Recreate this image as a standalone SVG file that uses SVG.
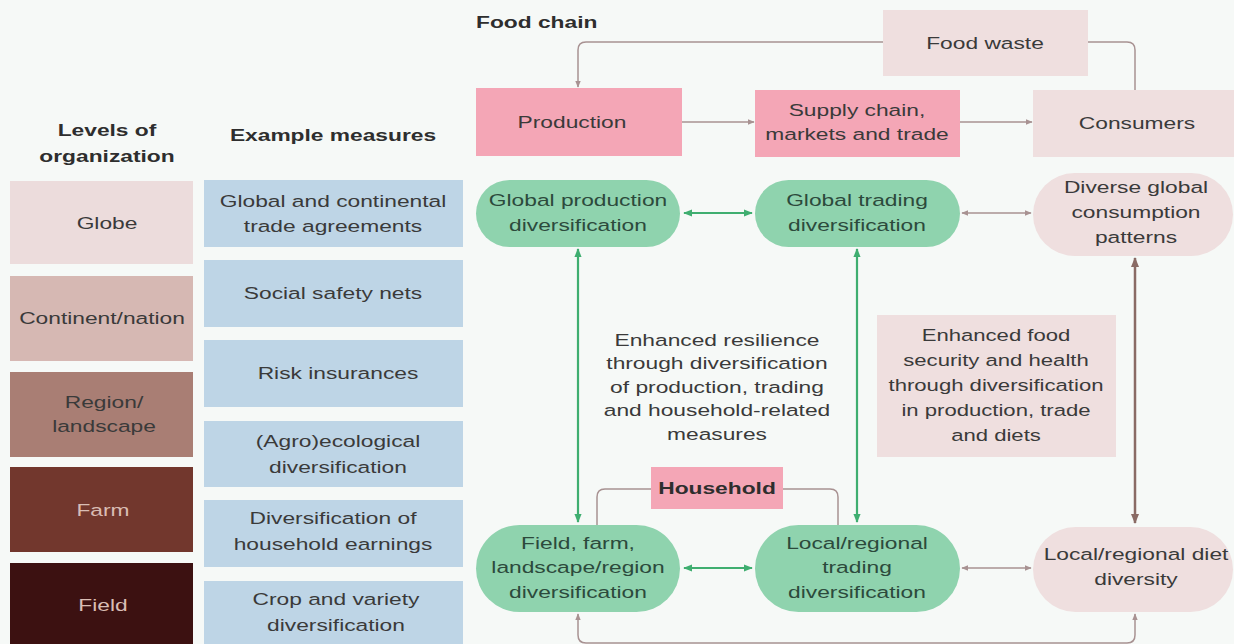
<svg xmlns="http://www.w3.org/2000/svg" width="1234" height="644" viewBox="0 0 1234 644">
<style>
.t{font-family:"Liberation Sans",Arial,sans-serif;font-size:17px;fill:#3a3a3a;text-anchor:middle}
.h{font-weight:bold;fill:#2e2e2e}
.lt{fill:#d9bdb4}
.gt{fill:#2c4a3c}
.pk{fill:#f4a6b6}
.lp{fill:#efdfdf}
.bl{fill:#bed5e6}
.gr{fill:#8fd3ae}
.ca{fill:none;stroke:#a89292;stroke-width:1.5}
.cg{fill:none;stroke:#3fae70;stroke-width:2.2}
.cb{fill:none;stroke:#8a6b65;stroke-width:2.5}
</style>
<defs>
<marker id="ab" viewBox="0 0 10 10" refX="9" refY="5" markerWidth="7" markerHeight="7" markerUnits="userSpaceOnUse" orient="auto-start-reverse"><path d="M0,1 L10,5 L0,9 Z" fill="#a89292"/></marker>
<marker id="ag" viewBox="0 0 10 10" refX="9" refY="5" markerWidth="9" markerHeight="9" markerUnits="userSpaceOnUse" orient="auto-start-reverse"><path d="M0,1 L10,5 L0,9 Z" fill="#3fae70"/></marker>
<marker id="ad" viewBox="0 0 10 10" refX="9" refY="5" markerWidth="10" markerHeight="10" markerUnits="userSpaceOnUse" orient="auto-start-reverse"><path d="M0,1 L10,5 L0,9 Z" fill="#8a6b65"/></marker>
</defs>
<rect width="1234" height="644" fill="#f6f9f7"/>

<g id="headers">
<text class="t h" transform="matrix(1.34 0 0 1 107 0)" x="0" y="136">Levels of<tspan x="0" dy="26">organization</tspan></text>
<text class="t h" transform="matrix(1.34 0 0 1 333 0)" x="0" y="141">Example measures</text>
<text class="t h" style="text-anchor:start" transform="matrix(1.34 0 0 1 476 0)" x="0" y="28">Food chain</text>
</g>

<g id="level-globe"><rect x="10" y="181" width="183" height="83" fill="#ecdcdc"/><text class="t" transform="matrix(1.34 0 0 1 107 0)" x="0" y="229">Globe</text></g>
<g id="level-continent"><rect x="10" y="276" width="183" height="85" fill="#d6b8b3"/><text class="t" transform="matrix(1.34 0 0 1 102 0)" x="0" y="324">Continent/nation</text></g>
<g id="level-region"><rect x="10" y="372" width="183" height="85" fill="#a97e74"/><text class="t" fill="#2e2422" transform="matrix(1.34 0 0 1 104 0)" x="0" y="408">Region/<tspan x="0" dy="24">landscape</tspan></text></g>
<g id="level-farm"><rect x="10" y="467" width="183" height="85" fill="#72372d"/><text class="t lt" transform="matrix(1.34 0 0 1 103 0)" x="0" y="516">Farm</text></g>
<g id="level-field"><rect x="10" y="563" width="183" height="90" fill="#3c1111"/><text class="t lt" transform="matrix(1.34 0 0 1 103 0)" x="0" y="611">Field</text></g>

<g id="measure-trade"><rect class="bl" x="204" y="180" width="259" height="67"/><text class="t" transform="matrix(1.34 0 0 1 333 0)" x="0" y="207">Global and continental<tspan x="0" dy="25">trade agreements</tspan></text></g>
<g id="measure-safety"><rect class="bl" x="204" y="260" width="259" height="67"/><text class="t" transform="matrix(1.34 0 0 1 333 0)" x="0" y="299">Social safety nets</text></g>
<g id="measure-risk"><rect class="bl" x="204" y="340" width="259" height="67"/><text class="t" transform="matrix(1.34 0 0 1 338 0)" x="0" y="379">Risk insurances</text></g>
<g id="measure-agro"><rect class="bl" x="204" y="421" width="259" height="66"/><text class="t" transform="matrix(1.34 0 0 1 338 0)" x="0" y="447">(Agro)ecological<tspan x="0" dy="26">diversification</tspan></text></g>
<g id="measure-household"><rect class="bl" x="204" y="500" width="259" height="67"/><text class="t" transform="matrix(1.34 0 0 1 333 0)" x="0" y="524">Diversification of<tspan x="0" dy="26">household earnings</tspan></text></g>
<g id="measure-crop"><rect class="bl" x="204" y="581" width="259" height="70"/><text class="t" transform="matrix(1.34 0 0 1 336 0)" x="0" y="605">Crop and variety<tspan x="0" dy="26">diversification</tspan></text></g>

<g id="connectors">
<path class="ca" d="M1135,90 V50 Q1135,42 1127,42 H1088" />
<path class="ca" d="M883,42 H586 Q578,42 578,50 V87" marker-end="url(#ab)"/>
<path class="ca" d="M682,122 H754" marker-end="url(#ab)"/>
<path class="ca" d="M960,122 H1032" marker-end="url(#ab)"/>
<path class="cg" d="M684,213 H752" marker-start="url(#ag)" marker-end="url(#ag)"/>
<path class="ca" d="M962,213 H1031" marker-start="url(#ab)" marker-end="url(#ab)"/>
<path class="cg" d="M578,249 V522" marker-start="url(#ag)" marker-end="url(#ag)"/>
<path class="cg" d="M857,249 V522" marker-start="url(#ag)" marker-end="url(#ag)"/>
<path class="cb" d="M1135,258 V523" marker-start="url(#ad)" marker-end="url(#ad)"/>
<path class="ca" d="M651,489 H605 Q597,489 597,497 V525"/>
<path class="ca" d="M783,489 H830 Q838,489 838,497 V525"/>
<path class="cg" d="M684,568 H752" marker-start="url(#ag)" marker-end="url(#ag)"/>
<path class="ca" d="M962,568 H1031" marker-start="url(#ab)" marker-end="url(#ab)"/>
<path class="ca" d="M578,614 V635 Q578,643 586,643 H1127 Q1135,643 1135,635 V614" marker-start="url(#ab)" marker-end="url(#ab)"/>
</g>

<g id="food-waste"><rect class="lp" x="883" y="10" width="205" height="66"/><text class="t" transform="matrix(1.34 0 0 1 985 0)" x="0" y="49">Food waste</text></g>
<g id="production"><rect class="pk" x="476" y="88" width="206" height="68"/><text class="t" transform="matrix(1.34 0 0 1 572 0)" x="0" y="128">Production</text></g>
<g id="supply-chain"><rect class="pk" x="755" y="90" width="205" height="67"/><text class="t" transform="matrix(1.34 0 0 1 857 0)" x="0" y="116">Supply chain,<tspan x="0" dy="24">markets and trade</tspan></text></g>
<g id="consumers"><rect class="lp" x="1033" y="90" width="203" height="67"/><text class="t" transform="matrix(1.34 0 0 1 1137 0)" x="0" y="129">Consumers</text></g>

<g id="global-production"><rect class="gr" x="476" y="180" width="204" height="67" rx="33.5"/><text class="t gt" transform="matrix(1.34 0 0 1 578 0)" x="0" y="206">Global production<tspan x="0" dy="25">diversification</tspan></text></g>
<g id="global-trading"><rect class="gr" x="755" y="180" width="205" height="67" rx="33.5"/><text class="t gt" transform="matrix(1.34 0 0 1 857 0)" x="0" y="206">Global trading<tspan x="0" dy="25">diversification</tspan></text></g>
<g id="global-consumption"><rect class="lp" x="1033" y="173" width="200" height="83" rx="41.5"/><text class="t" transform="matrix(1.34 0 0 1 1136 0)" x="0" y="193">Diverse global<tspan x="0" dy="25">consumption</tspan><tspan x="0" dy="25">patterns</tspan></text></g>

<g id="resilience-note"><text class="t" fill="#555" transform="matrix(1.34 0 0 1 717 0)" x="0" y="346">Enhanced resilience<tspan x="0" dy="23.5">through diversification</tspan><tspan x="0" dy="23.5">of production, trading</tspan><tspan x="0" dy="23.5">and household-related</tspan><tspan x="0" dy="23.5">measures</tspan></text></g>

<g id="food-security"><rect class="lp" x="877" y="315" width="239" height="142"/><text class="t" style="font-size:16.5px" transform="matrix(1.34 0 0 1 996 0)" x="0" y="341">Enhanced food<tspan x="0" dy="25">security and health</tspan><tspan x="0" dy="25">through diversification</tspan><tspan x="0" dy="25">in production, trade</tspan><tspan x="0" dy="25">and diets</tspan></text></g>

<g id="household"><rect class="pk" x="651" y="467" width="132" height="42"/><text class="t h" transform="matrix(1.34 0 0 1 717 0)" x="0" y="494">Household</text></g>

<g id="field-farm"><rect class="gr" x="476" y="525" width="204" height="87" rx="43.5"/><text class="t gt" transform="matrix(1.34 0 0 1 578 0)" x="0" y="549">Field, farm,<tspan x="0" dy="24.5">landscape/region</tspan><tspan x="0" dy="24.5">diversification</tspan></text></g>
<g id="local-trading"><rect class="gr" x="755" y="525" width="205" height="87" rx="43.5"/><text class="t gt" transform="matrix(1.34 0 0 1 857 0)" x="0" y="549">Local/regional<tspan x="0" dy="24.5">trading</tspan><tspan x="0" dy="24.5">diversification</tspan></text></g>
<g id="local-diet"><rect class="lp" x="1033" y="527" width="200" height="85" rx="42.5"/><text class="t" transform="matrix(1.34 0 0 1 1136 0)" x="0" y="560">Local/regional diet<tspan x="0" dy="25">diversity</tspan></text></g>
</svg>
